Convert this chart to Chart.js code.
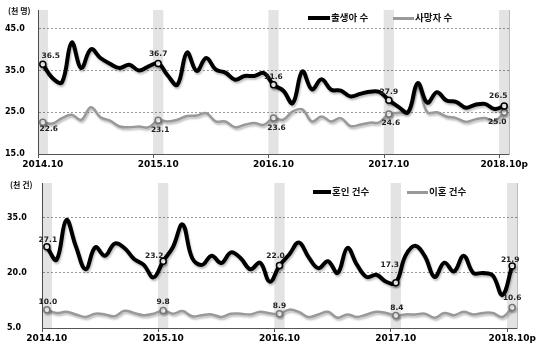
<!DOCTYPE html>
<html>
<head>
<meta charset="utf-8">
<script src="https://cdn.jsdelivr.net/npm/chart.js@4/dist/chart.umd.min.js"></script>
<style>
body { margin: 0; background: #fff; width: 540px; height: 348px; position: relative; overflow: hidden; }
canvas { position: absolute; left: 0; }
.txt { position: absolute; font-family: 'Noto Sans CJK KR', sans-serif; font-weight: bold; color: #111; white-space: nowrap; line-height: 1; }
.key { position: absolute; }
</style>
</head>
<body>
<canvas id="top" width="540" height="170" style="top:0"></canvas>
<canvas id="bottom" width="540" height="178" style="top:170px"></canvas>

<div class="txt" style="left:8px;top:7px;font-size:8px">(천 명)</div>
<div class="key" style="left:308px;top:16px;width:22px;height:4px;background:#000"></div>
<div class="txt" style="left:331px;top:13px;font-size:9.5px">출생아 수</div>
<div class="key" style="left:393px;top:17px;width:21px;height:2.5px;background:#999"></div>
<div class="txt" style="left:415px;top:13px;font-size:9.5px">사망자 수</div>

<div class="txt" style="left:10px;top:181px;font-size:8px">(천 건)</div>
<div class="key" style="left:313px;top:190px;width:18px;height:4px;background:#000"></div>
<div class="txt" style="left:332px;top:187px;font-size:9.5px">혼인 건수</div>
<div class="key" style="left:407px;top:191px;width:21px;height:2.5px;background:#999"></div>
<div class="txt" style="left:429px;top:187px;font-size:9.5px">이혼 건수</div>

<script>
// monthly, 2014.10 ~ 2018.10p (thousands)
var months = [
    '2014.10', '2014.11', '2014.12',
    '2015.01', '2015.02', '2015.03', '2015.04', '2015.05', '2015.06', '2015.07', '2015.08', '2015.09', '2015.10', '2015.11', '2015.12',
    '2016.01', '2016.02', '2016.03', '2016.04', '2016.05', '2016.06', '2016.07', '2016.08', '2016.09', '2016.10', '2016.11', '2016.12',
    '2017.01', '2017.02', '2017.03', '2017.04', '2017.05', '2017.06', '2017.07', '2017.08', '2017.09', '2017.10', '2017.11', '2017.12',
    '2018.01', '2018.02', '2018.03', '2018.04', '2018.05', '2018.06', '2018.07', '2018.08', '2018.09', '2018.10p'
]
var tickLabels = ['2014.10', '2015.10', '2016.10', '2017.10', '2018.10p']

var births = [
    36.5, 33.2, 32.2,
    41.7, 35.6, 40.1, 38.0, 36.6, 35.6, 36.4, 35.0, 36.0, 36.7, 33.8, 31.6,
    39.3, 34.9, 38.0, 35.2, 34.5, 32.8, 33.7, 33.7, 34.4, 31.6, 30.2, 27.2,
    34.8, 30.5, 32.9, 30.4, 30.2, 28.8, 29.4, 29.9, 29.9, 27.9, 26.3, 25.0,
    32.0, 27.3, 29.8, 27.8, 27.5, 26.1, 26.8, 27.0, 25.8, 26.5
]
var deaths = [
    22.6, 22.3, 23.6,
    24.4, 23.2, 26.2, 23.8, 23.0, 21.6, 21.4, 21.6, 21.4, 23.1, 22.8, 23.2,
    24.1, 24.2, 24.8, 22.8, 22.8, 21.4, 22.0, 22.4, 22.0, 23.6, 23.2, 25.2,
    25.7, 22.8, 24.0, 22.8, 23.6, 21.7, 22.0, 22.5, 22.6, 24.6, 24.9, 25.3,
    31.0, 25.0, 25.0, 24.0, 23.6, 22.7, 23.3, 23.6, 22.9, 25.0
]
var marriages = [
    27.1, 23.6, 34.4,
    27.2, 21.0, 27.0, 24.7, 28.0, 26.8, 23.8, 22.2, 18.8, 23.2, 27.0, 33.2,
    24.0, 22.2, 24.7, 22.7, 25.6, 24.0, 21.0, 22.8, 17.6, 22.0, 25.0, 28.3,
    24.3, 21.3, 23.2, 20.0, 26.8, 22.2, 18.9, 19.5, 17.6, 17.3, 24.7, 27.4,
    24.5, 18.9, 22.8, 20.4, 24.7, 20.0, 20.0, 19.3, 14.0, 21.9
]
var divorces = [
    10.0, 9.1, 9.4,
    8.7, 8.0, 8.9, 8.7, 8.2, 9.7, 9.1, 8.5, 8.9, 9.8, 8.9, 9.6,
    8.2, 8.5, 8.7, 8.0, 8.9, 8.9, 8.7, 9.4, 9.0, 8.9, 10.0, 9.4,
    8.0, 8.7, 9.4, 7.8, 8.7, 8.0, 8.7, 9.4, 9.1, 8.4, 8.7, 8.7,
    8.9, 7.8, 9.1, 8.5, 9.4, 8.7, 9.1, 9.1, 8.0, 10.6
]

var topTicks = [15, 25, 35, 45]
var bottomTicks = [5, 20, 35]

var boldFont = { family: 'DejaVu Sans', weight: 'bold' }

// small value labels next to the October markers
var pointLabels = {
    id: 'pointLabels',
    afterDatasetsDraw(chart) {
        var ctx = chart.ctx
        ctx.save()
        ctx.font = 'bold 7.5px "DejaVu Sans"'
        ctx.fillStyle = '#222'
        ctx.textAlign = 'center'
        ctx.textBaseline = 'middle'
        chart.data.datasets.forEach(function (ds, di) {
            if (!ds.labelShift) return
            var meta = chart.getDatasetMeta(di)
            var k = 0
            months.forEach(function (m, i) {
                if (tickLabels.indexOf(m) < 0) return
                var pt = meta.data[i]
                var s = ds.labelShift[k++]
                ctx.fillText(ds.data[i].toFixed(1), pt.x + s[0], pt.y + s[1])
            })
        })
        ctx.restore()
    }
}

var lineShadow = {
    id: 'lineShadow',
    beforeDatasetDraw(chart, args) {
        if (args.meta.type !== 'line') return
        var ctx = chart.ctx
        ctx.save()
        ctx.shadowColor = 'rgba(0,0,0,0.25)'
        ctx.shadowOffsetX = 1
        ctx.shadowOffsetY = 2
        ctx.shadowBlur = 2
    },
    afterDatasetDraw(chart, args) {
        if (args.meta.type !== 'line') return
        chart.ctx.restore()
    }
}

function makeChart(id, o) {
    var band = months.map(function (m) {
        return tickLabels.indexOf(m) >= 0 ? [o.min, o.max] : null
    })
    var marker = function (c) { return tickLabels.indexOf(months[c.index]) >= 0 ? 3 : 0 }
    return new Chart(document.getElementById(id), {
        type: 'line',
        data: {
            labels: months,
            datasets: [
                {
                    data: o.black,
                    borderColor: '#000',
                    borderWidth: 4,
                    tension: 0.4,
                    pointRadius: marker,
                    pointBackgroundColor: '#fff',
                    pointBorderColor: '#000',
                    pointBorderWidth: 1.5,
                    labelShift: o.blackShift,
                    order: 0
                },
                {
                    data: o.gray,
                    borderColor: '#999',
                    borderWidth: 2.5,
                    tension: 0.4,
                    pointRadius: marker,
                    pointBackgroundColor: '#fff',
                    pointBorderColor: '#777',
                    pointBorderWidth: 1.5,
                    labelShift: o.grayShift,
                    order: 1
                },
                {
                    type: 'bar',
                    data: band,
                    backgroundColor: 'rgba(0,0,0,0.11)',
                    barPercentage: 1,
                    categoryPercentage: 1,
                    order: 2
                }
            ]
        },
        options: {
            responsive: false,
            animation: false,
            events: [],
            layout: { padding: o.padding },
            plugins: { legend: { display: false }, tooltip: { enabled: false } },
            scales: {
                x: {
                    offset: true,
                    afterFit: function (s) { s.height = o.xHeight },
                    grid: {
                        offset: true,
                        drawOnChartArea: false,
                        tickLength: 4,
                        color: function (c) { return c.index % 12 === 0 ? '#555' : 'rgba(0,0,0,0)' }
                    },
                    border: { color: '#555' },
                    ticks: {
                        autoSkip: false,
                        maxRotation: 0,
                        padding: 1,
                        color: '#000',
                        font: Object.assign({ size: 9 }, boldFont),
                        callback: function (v, i) { return tickLabels.indexOf(months[i]) >= 0 ? months[i] : '' }
                    }
                },
                y: {
                    min: o.min,
                    max: o.max,
                    afterBuildTicks: function (s) { s.ticks = o.ticks.map(function (v) { return { value: v } }) },
                    afterFit: function (s) { s.width = o.yWidth },
                    grid: {
                        drawTicks: false,
                        color: function (c) { return c.tick && c.tick.value === o.min ? 'rgba(0,0,0,0)' : '#999' }
                    },
                    border: { color: '#555', dash: [2, 2] },
                    ticks: {
                        crossAlign: 'far',
                        color: '#000',
                        font: Object.assign({ size: 8 }, boldFont),
                        callback: function (v) { return v.toFixed(1) }
                    }
                },
                right: {
                    position: 'right',
                    min: o.min,
                    max: o.max,
                    afterFit: function (s) { s.width = 0 },
                    grid: { drawOnChartArea: false, drawTicks: false },
                    border: { color: '#bbb' },
                    ticks: { display: false }
                }
            }
        },
        plugins: [lineShadow, pointLabels]
    })
}

makeChart('top', {
    black: births,
    gray: deaths,
    min: 15,
    max: 49.5,
    ticks: topTicks,
    padding: { left: 5, top: 10, right: 31, bottom: 0 },
    yWidth: 33,
    xHeight: 16,
    blackShift: [[8, -8], [0, -9], [0, -8], [0, -8], [-6, -10]],
    grayShift: [[6, 7], [2, 10], [3, 10], [2, 9], [-7, 10]]
})

makeChart('bottom', {
    black: marriages,
    gray: divorces,
    min: 5,
    max: 44.5,
    ticks: bottomTicks,
    padding: { left: 7, top: 13, right: 23, bottom: 0 },
    yWidth: 35,
    xHeight: 20,
    blackShift: [[1, -7], [-9, -5], [-4, -10], [-6, -18], [-2, -6]],
    grayShift: [[1, -8], [0, -8], [0, -8], [1, -7], [0, -9]]
})
</script>
</body>
</html>
